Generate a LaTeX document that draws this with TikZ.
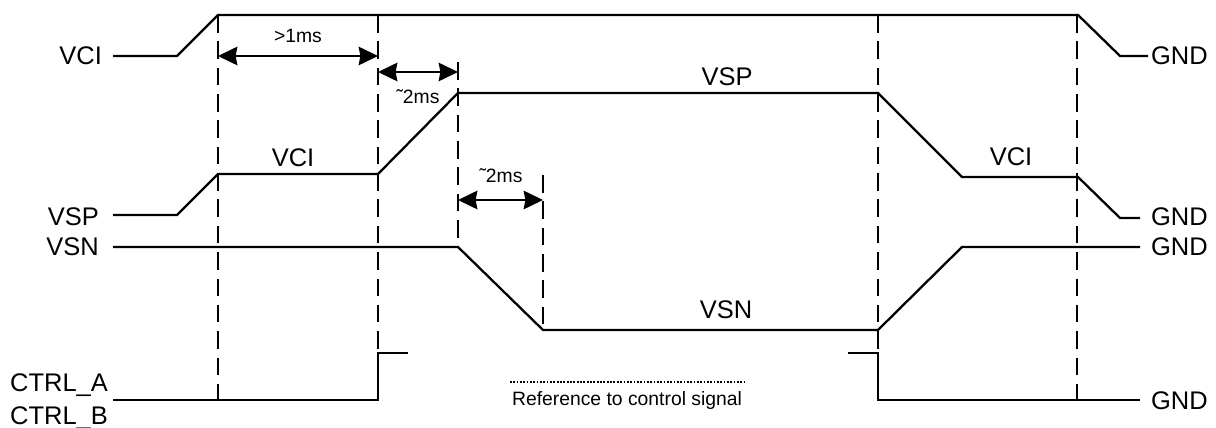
\documentclass[tikz,border=0pt]{standalone}
\usepackage{fontspec}
\setmainfont{Liberation Sans}
\usetikzlibrary{arrows.meta}

\begin{document}
\begin{tikzpicture}[x=0.02cm,y=-0.02cm,line width=1.3pt,>={Stealth[length=11pt,width=10.5pt,inset=1pt]},
  sig/.style={font=\fontsize{14.5}{17}\selectfont,inner sep=0pt,anchor=base},
  sml/.style={font=\fontsize{11}{13}\selectfont,inner sep=0pt,anchor=base},
  guide/.style={dash pattern=on 10pt off 5pt},
  span/.style={<->}]
\useasboundingbox (0,0) rectangle (1216,428);
% signal names
\node[sig,anchor=base east] (vcil) at (103,65) {VCI};
\node[sig,anchor=base east] (vspl) at (100,226) {VSP};
\node[sig,anchor=base east] (vsnl) at (100,256) {VSN};
\node[sig,anchor=base east] (ctla) at (109,392) {CTRL\_A};
\node[sig,anchor=base east] (ctlb) at (109,424) {CTRL\_B};
\node[sig,anchor=base west] (gnda) at (1150,65) {GND};
\node[sig,anchor=base west] (gndb) at (1150,226) {GND};
\node[sig,anchor=base west] (gndc) at (1150,256) {GND};
\node[sig,anchor=base west] (gndd) at (1150,410) {GND};
% levels
\node[sig] (vcion) at (293,167) {VCI};
\node[sig] (vspon) at (727,86) {VSP};
\node[sig] (vsnon) at (726,319) {VSN};
\node[sig] (vcioff) at (1011,166) {VCI};
% waveforms
\draw (113,56) -- (177,56) -- (218,15) -- (1078,15) -- (1120,56) -- (1148,56);
\draw (113,215) -- (177,215) -- (218,174) -- (378,174) -- (458,93) -- (878,93) -- (962,177) -- (1078,177) -- (1120,218) -- (1140,218);
\draw (113,247) -- (458,247) -- (543,330) -- (878,330) -- (962,247) -- (1140,247);
\draw (113,400) -- (378,400) -- (378,353) -- (408,353);
\draw (848,353) -- (878,353) -- (878,400) -- (1140,400);
% timing guides
\foreach \x/\a/\b in {218/15/400,378/15/353,458/62/247,543/175/330,878/15/353,1077/15/400}
  \draw[guide] (\x,\a) -- (\x,\b);
\draw[span] (218,56) -- (378,56);
\draw[span] (378,72) -- (458,72);
\draw[span] (458,200) -- (543,200);
\node[sml] (t1) at (298,43) {>1ms};
\node[sml] (t2) at (418,104) {˜2ms};
\node[sml] (t3) at (501,183) {˜2ms};
% legend
\node[sml] (ref) at (627,405) {Reference to control signal};
\draw[dash pattern=on 1pt off 0.9pt] (510,382) -- (746,382);
\end{tikzpicture}
\end{document}
